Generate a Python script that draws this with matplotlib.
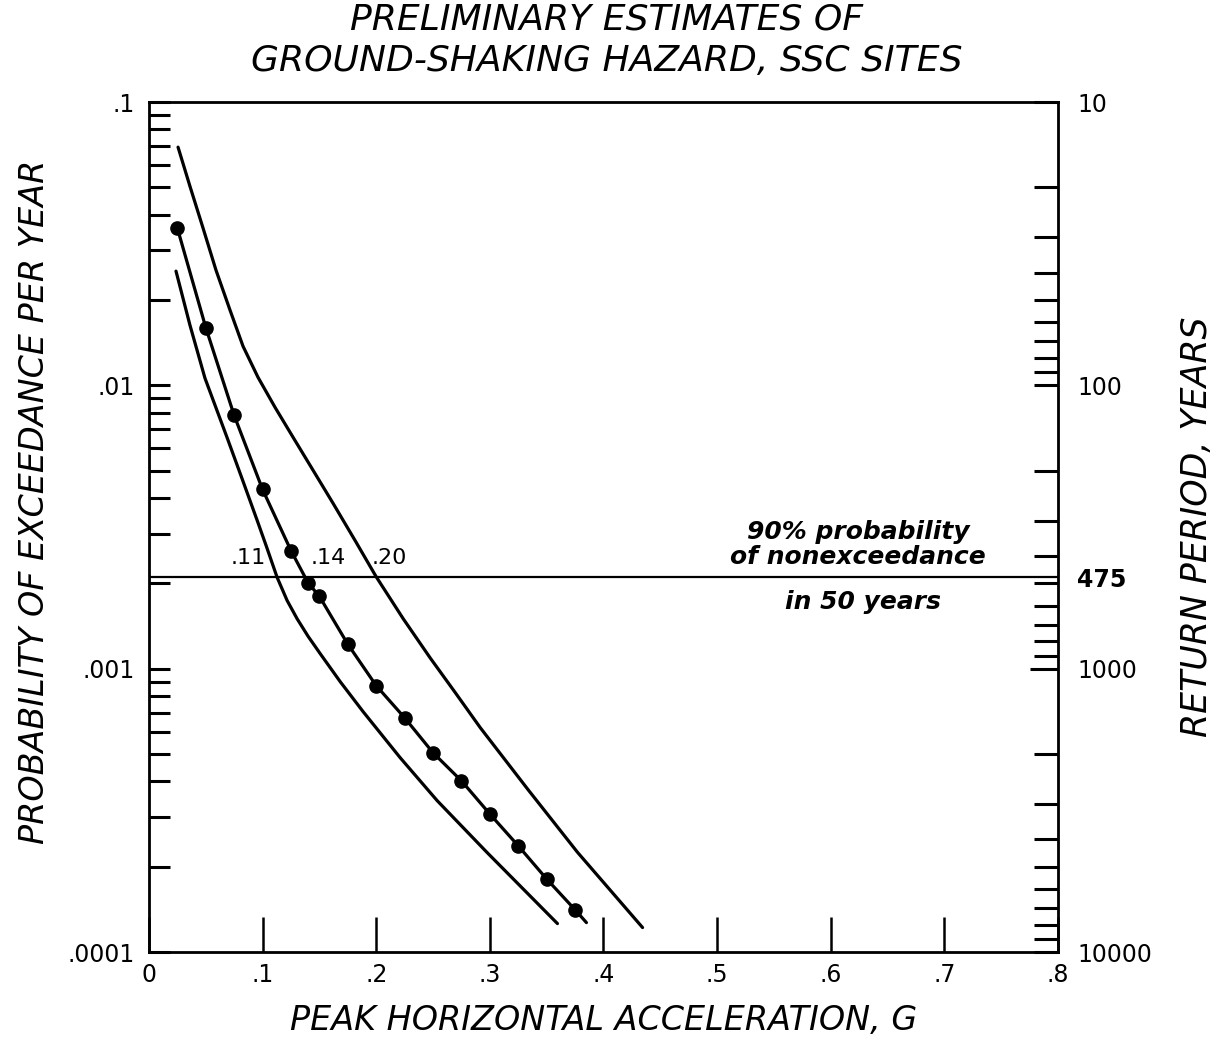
import matplotlib
matplotlib.use('Agg')
import matplotlib.pyplot as plt
from matplotlib.ticker import FixedLocator, NullFormatter

# srodkowa krzywa (z punktami)
x_sred = [0.025, 0.05, 0.075, 0.1, 0.125, 0.14, 0.15, 0.175, 0.2, 0.225, 0.25,
          0.275, 0.3, 0.325, 0.35, 0.375]
p_sred = [0.0359, 0.0160, 0.00783, 0.00429, 0.00261, 0.00201, 0.00180, 0.00122,
          0.000871, 0.000671, 0.000505, 0.000402, 0.000307, 0.000237, 0.000181, 0.000141]
x_sred_kon = [0.375, 0.385]
p_sred_kon = [0.000141, 0.000127]

# gorna krzywa
x_gora = [0.0256, 0.0361, 0.0476, 0.0590, 0.0714, 0.0828, 0.0960, 0.1110, 0.1269,
          0.1445, 0.1621, 0.1815, 0.2000, 0.2238, 0.2476, 0.2696, 0.2916, 0.3339,
          0.3771, 0.4344]
p_gora = [0.0693, 0.0504, 0.0359, 0.0255, 0.0184, 0.01374, 0.01067, 0.00836, 0.00655,
          0.00501, 0.00383, 0.00283, 0.00211, 0.00150, 0.00109, 0.000823, 0.000619,
          0.000373, 0.000225, 0.000122]

# dolna krzywa
x_dol = [0.0238, 0.0361, 0.0493, 0.0687, 0.0819, 0.0952, 0.1031, 0.1128, 0.1216,
         0.1304, 0.1401, 0.1507, 0.1683, 0.1885, 0.2211, 0.2537, 0.2978, 0.3595]
p_dol = [0.0253, 0.0163, 0.0106, 0.00655, 0.00469, 0.00334, 0.00272, 0.00210, 0.00174,
         0.00150, 0.00130, 0.00113, 0.000900, 0.000705, 0.000485, 0.000342, 0.000224,
         0.000126]

okres_475 = 475
przeciecia = [0.11, 0.14, 0.20]
przeciecia_etykiety = ['.11', '.14', '.20']

x_ticks = [0, 0.1, 0.2, 0.3, 0.4, 0.5, 0.6, 0.7, 0.8]
x_tick_labels = ['0', '.1', '.2', '.3', '.4', '.5', '.6', '.7', '.8']
y_ticks = [1e-4, 1e-3, 1e-2, 1e-1]
y_tick_labels = ['.0001', '.001', '.01', '.1']
t_ticks = [10, 100, 475, 1000, 10000]
t_tick_labels = ['10', '100', '475', '1000', '10000']

plt.rcParams['font.family'] = ['DejaVu Sans']

fig = plt.figure(figsize=(12.13, 10.4), dpi=100)
ax = fig.add_axes([0.1228, 0.0846, 0.7494, 0.8173])

lw = 2.3
ax.plot(x_gora, p_gora, color='black', lw=lw, solid_capstyle='round',
        solid_joinstyle='round')
ax.plot(x_dol, p_dol, color='black', lw=lw, solid_capstyle='round',
        solid_joinstyle='round')
ax.plot(x_sred, p_sred, color='black', lw=lw, marker='o', markersize=9.5)
ax.plot(x_sred_kon, p_sred_kon, color='black', lw=lw, solid_capstyle='round')
ax.axhline(1 / okres_475, color='black', lw=1.6)

ax.set_yscale('log')
ax.set_xlim(0, 0.8)
ax.set_ylim(1e-4, 1e-1)

ax.set_xticks(x_ticks, labels=x_tick_labels)
ax.set_yticks(y_ticks, labels=y_tick_labels)
ax.tick_params(axis='x', direction='in', length=25, width=1.8, labelsize=17, pad=8)
ax.tick_params(axis='y', which='major', direction='in', length=15, width=2.2,
               labelsize=17, pad=10)
ax.tick_params(axis='y', which='minor', direction='in', length=15, width=2.2)
for s in ax.spines.values():
    s.set_linewidth(2)

przes = [-0.038, 0.002, -0.004]
for xp, et, d in zip(przeciecia, przeciecia_etykiety, przes):
    ax.text(xp + d, 1 / okres_475 * 1.08, et, ha='left', va='bottom', fontsize=16)

ax.text(0.624, 0.00274, '90% probability\nof nonexceedance', ha='center', va='center',
        fontsize=18, fontstyle='italic', fontweight='bold', linespacing=1.05)
ax.text(0.628, 0.00172, 'in 50 years', ha='center', va='center',
        fontsize=18, fontstyle='italic', fontweight='bold')

ax.set_xlabel('PEAK HORIZONTAL ACCELERATION, G', fontsize=24, fontstyle='italic',
              labelpad=12)
ax.set_ylabel('PROBABILITY OF EXCEEDANCE PER YEAR', fontsize=24, fontstyle='italic')
ax.yaxis.set_label_coords(-0.108, 0.53)

# prawa os - okres powrotu
ax2 = ax.twinx()
ax2.set_yscale('log')
ax2.set_ylim(10000, 10)
ax2.set_yticks(t_ticks, labels=t_tick_labels)
minor = [m * d for d in [10, 100, 1000] for m in range(2, 10)]
ax2.yaxis.set_minor_locator(FixedLocator(minor))
ax2.yaxis.set_minor_formatter(NullFormatter())
ax2.tick_params(axis='y', which='major', direction='in', length=17, width=2.2,
                labelsize=17, pad=14)
ax2.tick_params(axis='y', which='minor', direction='in', length=17, width=2.2)
ax2.get_yticklabels()[2].set_fontweight('bold')
ax2.yaxis.get_major_ticks()[2].tick2line.set_visible(False)
ax2.yaxis.get_major_ticks()[3].tick2line.set_markersize(20)
ax2.set_ylabel('RETURN PERIOD, YEARS', fontsize=25, fontstyle='italic', labelpad=20)

fig.suptitle('PRELIMINARY ESTIMATES OF\nGROUND-SHAKING HAZARD, SSC SITES',
             fontsize=26, fontstyle='italic', y=0.998, linespacing=1.3)

plt.savefig('out.png', dpi=100)
